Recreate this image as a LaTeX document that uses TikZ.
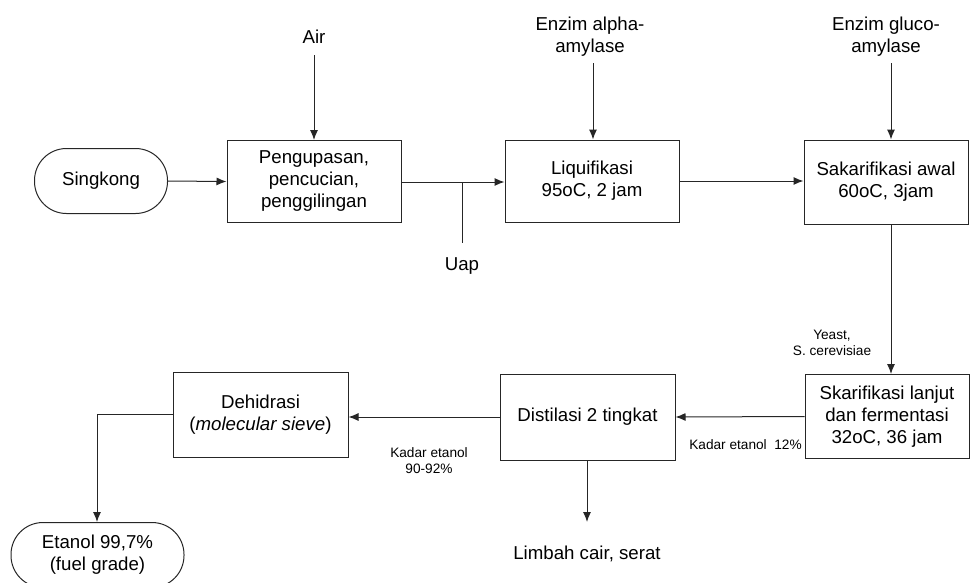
\documentclass[tikz,border=0pt]{standalone}
\usepackage{fontspec}
\setmainfont{Liberation Sans}
\usetikzlibrary{arrows.meta}
\tikzset{
  flow/.style={line width=0.75pt, draw=black!85},
  arr/.style={flow, -{Latex[length=7.5pt,width=6pt]}},
  procbox/.style={draw=black!85, line width=0.75pt, rectangle, align=center,
    minimum width=130.5pt, minimum height=61.5pt, inner sep=2pt,
    font=\fontsize{14}{16.5}\selectfont},
  pill/.style={draw=black!85, line width=0.75pt, rectangle, rounded corners=24pt,
    align=center, minimum height=48.75pt, inner sep=2pt,
    font=\fontsize{14}{16.5}\selectfont},
  biglabel/.style={align=center, inner sep=0pt, font=\fontsize{14}{16.5}\selectfont},
  smalllabel/.style={align=center, inner sep=0pt, font=\fontsize{10.25}{12}\selectfont}
}
\begin{document}
\begin{tikzpicture}[x=0.75pt, y=-0.75pt]
\useasboundingbox (0,0) rectangle (970,582);

% top row
\node[pill, minimum width=99.75pt] (singkong) at (101,181) {Singkong};
\node[procbox] (kupas) at (314,181.5) {Pengupasan,\\pencucian,\\penggilingan};
\node[procbox] (liq) at (592,181) {Liquifikasi\\95oC, 2 jam};
\node[procbox, minimum width=123pt, minimum height=63pt] (sak) at (886,182) {Sakarifikasi awal\\60oC, 3jam};

% bottom row
\node[procbox, minimum width=123pt, minimum height=63pt] (ferm) at (887,416.5) {Skarifikasi lanjut\\dan fermentasi\\32oC, 36 jam};
\node[procbox, minimum width=131.25pt, minimum height=64.5pt] (dist) at (587.5,417) {Distilasi 2 tingkat};
\node[procbox, minimum width=131.25pt, minimum height=63.75pt] (deh) at (260.5,414.5) {Dehidrasi\\(\textit{molecular sieve})};
\node[pill, minimum width=129.75pt] (etanol) at (97.5,555) {Etanol 99,7\%\\(fuel grade)};

% input and output labels
\node[biglabel] (air) at (314,37) {Air};
\node[biglabel] (alpha) at (590,37) {Enzim alpha-\\amylase};
\node[biglabel] (gluco) at (886,37) {Enzim gluco-\\amylase};
\node[biglabel] (uap) at (462,266) {Uap};
\node[biglabel] (limbah) at (587,554) {Limbah cair, serat};
\node[smalllabel] (yeast) at (832,343) {Yeast,\\S. cerevisiae};
\node[smalllabel, anchor=east] (kadar12) at (802,445) {Kadar etanol\ \ 12\%};
\node[smalllabel] (kadar90) at (429,461) {Kadar etanol\\90-92\%};

% helper points for the free line ends
\coordinate (airS) at (314,55);
\coordinate (alphaS) at (593,63);
\coordinate (glucoS) at (891,63);
\coordinate (uapJ) at (462,182);
\coordinate (uapEnd) at (462,243);
\coordinate (limbahEnd) at (587,522);
\coordinate (dehTurn) at (97,414);

% feed streams
\draw[arr] (airS) -- (kupas.north);
\draw[arr] (alphaS) -- (alphaS |- liq.north);
\draw[arr] (glucoS) -- (glucoS |- sak.north);

% main process line
\draw[arr] (singkong.east) -- (kupas.west);
\draw[arr] (kupas.east |- uapJ) -- (liq.west |- uapJ);
\draw[flow] (uapJ) -- (uapEnd);
\draw[arr] (liq.east) -- (sak.west |- liq.east);
\draw[arr] (sak.south -| glucoS) -- (ferm.north -| glucoS);
\draw[arr] (ferm.west) -- (dist.east);
\draw[arr] (dist.west) -- (deh.east |- dist.west);
\draw[arr] (deh.west |- dehTurn) -- (dehTurn) -- (etanol.north -| dehTurn);
\draw[arr] (dist.south -| limbahEnd) -- (limbahEnd);
\end{tikzpicture}
\end{document}
